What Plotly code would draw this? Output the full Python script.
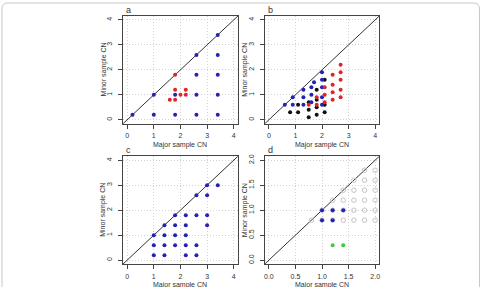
import plotly.graph_objects as go

W, H = 482, 287

# ---------------- data ----------------
a_blue_x = [0.2, 1.0, 1.0, 1.8, 1.8, 2.6, 2.6, 2.6, 2.6, 3.4, 3.4, 3.4, 3.4, 3.4]
a_blue_y = [0.2, 1.0, 0.2, 1.0, 0.2, 2.6, 1.8, 1.0, 0.2, 3.4, 2.6, 1.8, 1.0, 0.2]
a_red_x = [1.8, 1.8, 1.6, 1.8, 2.0, 2.2, 2.2]
a_red_y = [1.8, 1.2, 0.8, 0.8, 1.0, 1.2, 1.0]

b_black_x = [0.8, 1.1, 1.1, 1.5, 1.5, 1.5, 1.8, 1.8, 1.8, 1.8, 2.1, 2.1, 2.1]
b_black_y = [0.3, 0.3, 0.6, 0.4, 0.1, 0.7, 1.2, 0.8, 0.5, 0.2, 1.6, 0.6, 0.3]
b_blue_x = [0.6, 0.9, 0.9, 1.3, 1.3, 1.3, 1.7, 1.6, 1.6, 1.6, 2.0, 2.0, 2.0, 2.0, 2.0]
b_blue_y = [0.6, 0.9, 0.6, 1.2, 0.9, 0.6, 1.5, 1.3, 1.0, 0.7, 1.9, 1.6, 1.3, 0.9, 0.6]
b_red_x = [2.7, 2.7, 2.7, 2.7, 2.7, 2.4, 2.4, 2.4, 2.4, 2.1, 2.1, 2.1, 1.8, 1.8, 1.5]
b_red_y = [2.2, 1.9, 1.6, 1.2, 0.9, 1.8, 1.4, 1.1, 0.8, 1.3, 1.0, 0.7, 0.9, 0.6, 0.6]

c_blue_x = [1.0, 1.0, 1.0, 1.4, 1.4, 1.4, 1.4, 1.8, 1.8, 1.8, 1.8, 2.2, 2.2, 2.2, 2.2, 2.2,
            2.6, 2.6, 2.6, 2.6, 3.0, 3.0, 3.0, 3.0, 3.4]
c_blue_y = [1.0, 0.6, 0.2, 1.4, 1.0, 0.6, 0.2, 1.8, 1.4, 1.0, 0.6, 1.8, 1.4, 1.0, 0.6, 0.2,
            2.6, 1.8, 0.6, 0.2, 3.0, 2.6, 1.8, 1.4, 3.0]

d_grey_x = [0.8, 1.0, 1.2, 1.4, 1.6, 1.8, 2.0,
            1.0, 1.2, 1.4, 1.6, 1.8, 2.0,
            1.2, 1.4, 1.6, 1.8, 2.0,
            1.4, 1.6, 1.8, 2.0,
            1.6, 1.8, 2.0,
            1.8, 2.0]
d_grey_y = [0.8, 0.8, 0.8, 0.8, 0.8, 0.8, 0.8,
            1.0, 1.0, 1.0, 1.0, 1.0, 1.0,
            1.2, 1.2, 1.2, 1.2, 1.2,
            1.4, 1.4, 1.4, 1.4,
            1.6, 1.6, 1.6,
            1.8, 1.8]
d_blue_x = [1.0, 1.2, 1.4, 1.0, 1.2]
d_blue_y = [1.0, 1.0, 1.0, 0.8, 0.8]
d_green_x = [1.2, 1.4]
d_green_y = [0.3, 0.3]

ticks4 = [0, 1, 2, 3, 4]
ticks4_text = ["0", "1", "2", "3", "4"]
ticks2 = [0.0, 0.5, 1.0, 1.5, 2.0]
ticks2_text = ["0.0", "0.5", "1.0", "1.5", "2.0"]
range4 = [-0.16, 4.16]
range2 = [-0.08, 2.08]
panel_letters = ["a", "b", "c", "d"]
x_title = "Major sample CN"
y_title = "Minor sample CN"

BLUE = "#2222B4"
RED = "#E0242C"
BLACK = "#111111"
GREEN = "#3CCB3C"
GREY = "#C4C4C4"
TXT = "#333333"
FONT = "Liberation Sans, Arial, sans-serif"
FS = 7

# ---------------- layout geometry (pixels) ----------------
def px_x(p):
    return p / W

def px_y(p):
    return 1 - p / H

xdom = {1: [px_x(122.4), px_x(238.0)], 2: [px_x(264.7), px_x(380.0)],
        3: [px_x(122.4), px_x(238.0)], 4: [px_x(264.7), px_x(380.0)]}
ydom = {1: [px_y(122.7), px_y(14.0)], 2: [px_y(122.7), px_y(14.0)],
        3: [px_y(264.0), px_y(155.3)], 4: [px_y(264.0), px_y(155.3)]}
xtitle_y = {1: px_y(143.5), 2: px_y(143.5), 3: px_y(284.5), 4: px_y(284.5)}
ytitle_x = {1: px_x(103.0), 2: px_x(245.0), 3: px_x(103.0), 4: px_x(245.0)}
ranges = {1: range4, 2: range4, 3: range4, 4: range2}
tvals = {1: ticks4, 2: ticks4, 3: ticks4, 4: ticks2}
ttext = {1: ticks4_text, 2: ticks4_text, 3: ticks4_text, 4: ticks2_text}

fig = go.Figure()

def dots(x, y, color, k, open_=False):
    suffix = "" if k == 1 else str(k)
    if open_:
        marker = dict(symbol="circle-open", size=4.5, color=color, line=dict(width=1, color=color))
    else:
        marker = dict(symbol="circle", size=4, color=color, line=dict(width=0))
    fig.add_trace(go.Scatter(x=x, y=y, mode="markers", marker=marker,
                             xaxis="x" + suffix, yaxis="y" + suffix,
                             showlegend=False, hoverinfo="skip"))

dots(a_blue_x, a_blue_y, BLUE, 1)
dots(a_red_x, a_red_y, RED, 1)
dots(b_black_x, b_black_y, BLACK, 2)
dots(b_blue_x, b_blue_y, BLUE, 2)
dots(b_red_x, b_red_y, RED, 2)
dots(c_blue_x, c_blue_y, BLUE, 3)
dots(d_grey_x, d_grey_y, GREY, 4, open_=True)
dots(d_blue_x, d_blue_y, BLUE, 4)
dots(d_green_x, d_green_y, GREEN, 4)

layout = dict(width=W, height=H, margin=dict(l=0, r=0, t=0, b=0),
              paper_bgcolor="white", plot_bgcolor="white", showlegend=False,
              font=dict(family=FONT, color=TXT))

shapes = []
annotations = []
for k in range(1, 5):
    suffix = "" if k == 1 else str(k)
    common = dict(range=ranges[k], tickmode="array", tickvals=tvals[k], ticktext=ttext[k],
                  showline=True, mirror=True, linecolor="#444444", linewidth=1,
                  ticks="outside", ticklen=4, tickwidth=1, tickcolor="#444444",
                  showgrid=True, gridcolor="#D2D2D2", griddash="1px,2px", gridwidth=1,
                  zeroline=False, fixedrange=True,
                  tickfont=dict(size=FS, family=FONT, color=TXT))
    layout["xaxis" + suffix] = dict(common, domain=xdom[k], anchor="y" + suffix,
                                    ticklabelstandoff=1)
    layout["yaxis" + suffix] = dict(common, domain=ydom[k], anchor="x" + suffix, tickangle=-90,
                                    ticklabelstandoff=3)
    # axis titles
    annotations.append(dict(text=x_title, xref="paper", yref="paper",
                            x=(xdom[k][0] + xdom[k][1]) / 2, y=xtitle_y[k],
                            xanchor="center", yanchor="middle", showarrow=False,
                            font=dict(size=FS, family=FONT, color=TXT)))
    annotations.append(dict(text=y_title, xref="paper", yref="paper", textangle=-90,
                            x=ytitle_x[k], y=(ydom[k][0] + ydom[k][1]) / 2,
                            xanchor="center", yanchor="middle", showarrow=False,
                            font=dict(size=FS, family=FONT, color=TXT)))
    # y = x reference line across the plotting range
    lo, hi = ranges[k]
    shapes.append(dict(type="line", xref="x" + suffix, yref="y" + suffix,
                       x0=lo, y0=lo, x1=hi, y1=hi, layer="between",
                       line=dict(color="#333333", width=1)))
    annotations.append(dict(text=panel_letters[k - 1], xref="paper", yref="paper",
                            x=xdom[k][0] + 0.002, y=ydom[k][1] - 0.004, xanchor="left",
                            yanchor="bottom", showarrow=False,
                            font=dict(size=9, family=FONT, color=TXT)))

# rounded outer frame
r = 6
x0, x1 = px_x(1), px_x(480.5)
yt = px_y(1)
path = (f"M {x0},{-0.05} L {x0},{px_y(1 + r)} Q {x0},{yt} {px_x(1 + r)},{yt} "
        f"L {px_x(480.5 - r)},{yt} Q {x1},{yt} {x1},{px_y(1 + r)} L {x1},{-0.05}")
shapes.append(dict(type="path", xref="paper", yref="paper", path=path,
                   line=dict(color="#C8C8C8", width=1)))

layout["shapes"] = shapes
layout["annotations"] = annotations
fig.update_layout(**layout)

fig.write_html("out.html")
